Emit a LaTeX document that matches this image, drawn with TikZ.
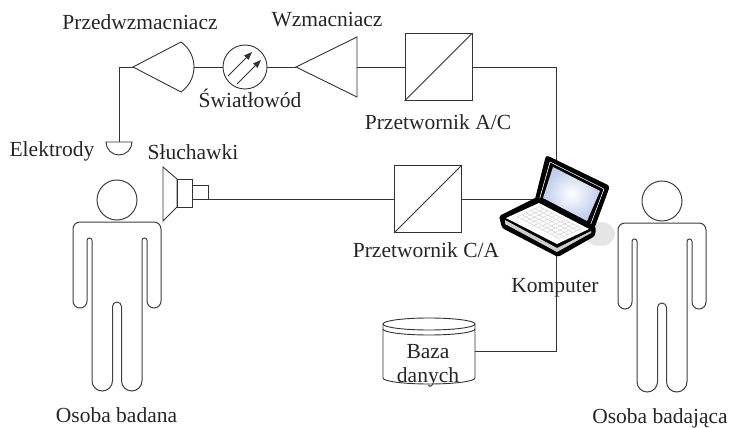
\documentclass[tikz,border=0pt]{standalone}
\usepackage{fontspec}
\setmainfont{Liberation Serif}
\usetikzlibrary{arrows.meta}
\definecolor{scrn}{RGB}{190,205,234}
\tikzset{
  line/.style={draw=black!80, line width=0.9pt},
  wire/.style={line},
  body/.style={draw=black!75, line width=1pt},
  lbl/.style={inner sep=0pt, anchor=base, text=black!85, font=\fontsize{21.5}{24}\selectfont},
  conv/.style={line, minimum width=67pt, minimum height=67pt, inner sep=0pt},
  person/.pic={
    \draw[body] (0,-22) circle[radius=20];
    \draw[body] (-37,0) -- (37,0) arc[start angle=-90,end angle=0,radius=7]
      -- (44,79) arc[start angle=0,end angle=180,radius=7]
      -- (30,18.5) arc[start angle=0,end angle=-180,radius=2.5]
      -- (25,158.75) arc[start angle=0,end angle=180,radius=10.25]
      -- (4.5,84.5) arc[start angle=0,end angle=-180,radius=4.5]
      -- (-4.5,158.75) arc[start angle=0,end angle=180,radius=10.25]
      -- (-25,18.5) arc[start angle=0,end angle=-180,radius=2.5]
      -- (-30,79) arc[start angle=0,end angle=180,radius=7]
      -- (-44,7) arc[start angle=180,end angle=270,radius=7] -- cycle;
  }
}
\begin{document}
\begin{tikzpicture}[x=1pt,y=-1pt]
\useasboundingbox (0,0) rectangle (732,428);
\fill[white] (0,0) rectangle (732,428);

% ports and junctions
\coordinate (el) at (119,142);
\coordinate (pre-in) at (133,67);
\coordinate (pre-out) at (194,67);
\coordinate (amp-in) at (296,67);
\coordinate (amp-out) at (357,67);
\coordinate (spk) at (208,199);
\coordinate (lap-top) at (556,160);
\coordinate (lap-left) at (533,199);
\coordinate (lap-bot) at (556,255);
\coordinate (db-e) at (475,351);

% converters and fibre link
\node[conv] (adc) at (438.5,67) {};
\draw[line] (adc.south west) -- (adc.north east);
\node[conv] (dac) at (428,199) {};
\draw[line] (dac.south west) -- (dac.north east);
\node[line, circle, minimum size=44pt, inner sep=0pt] (fiber) at (245,67) {};
\draw[line, -{Triangle[length=8pt,width=6pt]}] (228,76) -- (252,52);
\draw[line, -{Triangle[length=8pt,width=6pt]}] (237,84) -- (261,60);

% electrode
\draw[line, fill=white] (106,142) -- (132,142) arc[start angle=0,end angle=180,radius=13] -- cycle;

% preamplifier
\draw[line] (pre-in) -- (181,42) arc[start angle=-55,end angle=55,radius=30.5] -- cycle;
% amplifier
\draw[line] (amp-in) -- (357,37) -- (357,97) -- cycle;

% headphones
\draw[line] (163,167) -- (177,179) -- (177,207) -- (163,221) -- cycle;
\draw[line] (177,179) rectangle (192,207);
\draw[line] (192,185) rectangle (spk);

% database
\draw[line, fill=white] (383,324) -- (383,378) arc[start angle=180,end angle=0,x radius=46,y radius=6] -- (475,324);
\draw[line, fill=white] (429,324) ellipse[x radius=46, y radius=6];
\draw[line] (383,329) arc[start angle=180,end angle=0,x radius=46,y radius=6];

% connections
\draw[wire] (el) |- (pre-in);
\draw[wire] (pre-out) -- (fiber);
\draw[wire] (fiber) -- (amp-in);
\draw[wire] (amp-out) -- (adc);
\draw[wire] (adc) -| (lap-top);
\draw[wire] (spk) -- (dac);
\draw[wire] (dac) -- (lap-left);
\draw[wire] (lap-bot) |- (db-e);

% laptop
\fill[gray!20] (600,234) ellipse[x radius=15, y radius=12];
\fill[black, rounded corners=3] (546,155) -- (610,186) -- (593,232) -- (534,203) -- cycle;
\draw[white, line width=0.6pt] (550,162) -- (604,189) -- (590,226) -- (539,201) -- cycle;
\shade[inner color=white, outer color=scrn] (553,167) -- (600,191) -- (587,221) -- (543,198) -- cycle;
\fill[black, rounded corners=2.5] (537,197) -- (596,227) -- (595,236) -- (558,257) -- (502,228) -- (499,216) -- cycle;
\fill[gray!40] (505,220) -- (557,248) -- (591,231) -- (591,233) -- (557,252) -- (505,224) -- cycle;
\fill[white] (539,203) -- (589,229) -- (557,244) -- (506,218) -- cycle;
\foreach \k in {0,...,10}
  \draw[gray!35, line width=0.5pt]
    ({539+50*(0.08+0.084*\k)-33*0.1},{203+26*(0.08+0.084*\k)+15*0.1}) --
    ({539+50*(0.08+0.084*\k)-33*0.78},{203+26*(0.08+0.084*\k)+15*0.78});
\foreach \j in {0,...,5}
  \draw[gray!35, line width=0.5pt]
    ({539+50*0.08-33*(0.1+0.136*\j)},{203+26*0.08+15*(0.1+0.136*\j)}) --
    ({539+50*0.92-33*(0.1+0.136*\j)},{203+26*0.92+15*(0.1+0.136*\j)});

% people
\pic at (117,222) {person};
\pic at (662,223) {person};

% labels
\node[lbl] (t-pre) at (140,30) {Przedwzmacniacz};
\node[lbl] (t-amp) at (327,27) {Wzmacniacz};
\node[lbl] (t-fib) at (250,108) {Światłowód};
\node[lbl] (t-adc) at (438,130) {Przetwornik A/C};
\node[lbl] (t-el) at (52,157) {Elektrody};
\node[lbl] (t-spk) at (193,160) {Słuchawki};
\node[lbl] (t-dac) at (426,257) {Przetwornik C/A};
\node[lbl] (t-pc) at (555,292) {Komputer};
\node[lbl] (t-db1) at (428,358) {Baza};
\node[lbl] (t-db2) at (428,382) {danych};
\node[lbl] (t-p1) at (116.5,422) {Osoba badana};
\node[lbl] (t-p2) at (660,423) {Osoba badająca};
\end{tikzpicture}
\end{document}
